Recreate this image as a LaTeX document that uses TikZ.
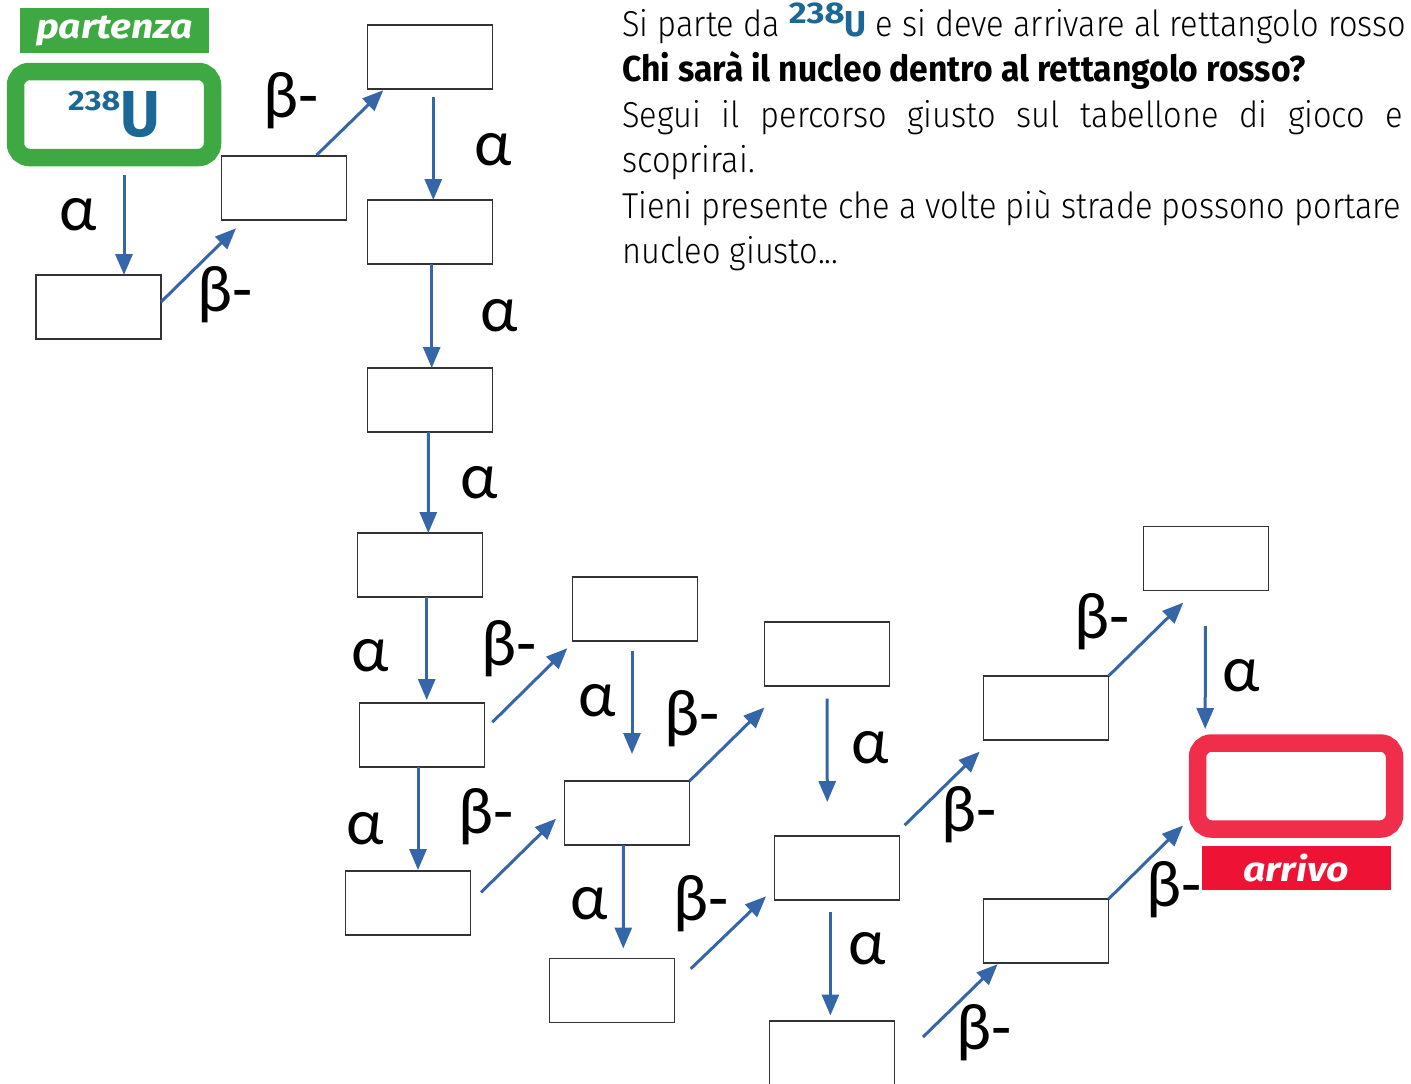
\documentclass[tikz,border=0pt]{standalone}
\usepackage{fontspec}
\setmainfont{Fira Sans}[UprightFont={* Light}, FakeStretch=0.905]
\newfontfamily\strongfont{Fira Sans}[FakeStretch=0.935]
\newfontfamily\widefont{Fira Sans}[FakeStretch=1.15]
\newfontfamily\greekfont{Carlito}
\usetikzlibrary{arrows.meta}

\definecolor{startgreen}{HTML}{3EA843}
\definecolor{endred}{HTML}{F02D4B}
\definecolor{tagred}{HTML}{EE1234}
\definecolor{arrowblue}{HTML}{3566AA}
\definecolor{textblue}{HTML}{1B6796}

\begin{document}
\begin{tikzpicture}[x=0.5pt,y=-0.5pt,
    box/.style={draw=black!80, line width=0.6pt, minimum width=62.5pt, minimum height=32pt, inner sep=0pt, outer sep=0pt},
    endbox/.style={rounded corners=7pt, line width=8.75pt, minimum width=98.5pt, minimum height=43pt, inner sep=0pt, outer sep=0pt},
    tag/.style={text=white, minimum width=94.5pt, minimum height=22.2pt, inner sep=0pt, font=\widefont\fontsize{17}{18}\selectfont\bfseries\itshape},
    dec/.style={draw=arrowblue, line width=1.5pt, -{Triangle[length=10.5pt,width=8.5pt]}},
    lab/.style={inner sep=0pt, font=\greekfont\fontsize{33}{36}\selectfont},
    txt/.style={anchor=base west, inner sep=0pt, font=\fontsize{18}{22}\selectfont}]
      \useasboundingbox (0,0) rectangle (1411,1083);

      % start and finish
      \node[tag, fill=startgreen] (partenza) at (114.5,30.5) {partenza};
      \node[endbox, draw=startgreen] (u) at (114,114.5)
        {\textcolor{textblue}{\strongfont\bfseries\raisebox{13.3pt}{\widefont\fontsize{14}{14}\selectfont 238}\fontsize{32.5}{34}\selectfont U}};
      \node[endbox, draw=endred] (arr) at (1296,786) {};
      \node[tag, fill=tagred] (arrivo) at (1296,868) {arrivo};

      % empty boxes
      \foreach \n/\x/\y in {b1/98.5/307, b2/284/188, b3/430/57, b4/430/232, b5/430/400,
                            b6/420/565, b7/422/735, b8/408/903, b9/635/609, b10/627/813,
                            b11/612/990.5, b12/827/654, b13/837/868, b14/832/1053,
                            b15/1046/708, b16/1046/931, b17/1206/558.5}
      \node[box] (\n) at (\x,\y) {};

      % decays
      \draw[dec] ([shift={(10,17)}]u.south) -- ([shift={(25.5,0)}]b1.north);
      \draw[dec] ([shift={(0,-5)}]b1.east) -- ([shift={(14.5,8.3)}]b2.south west);
      \draw[dec] ([shift={(32.7,-1)}]b2.north) -- ([shift={(15.8,1.2)}]b3.south west);
      \draw[dec] ([shift={(3.3,8)}]b3.south) -- ([shift={(3.3,0)}]b4.north);
      \draw[dec] ([shift={(1.7,0)}]b4.south) -- ([shift={(1.7,0)}]b5.north);
      \draw[dec] ([shift={(-1.7,0)}]b5.south) -- ([shift={(8.3,0)}]b6.north);
      \draw[dec] ([shift={(6.7,0)}]b6.south) -- ([shift={(4.7,-3)}]b7.north);
      \draw[dec] ([shift={(-4,0)}]b7.south) -- ([shift={(10,-1)}]b8.north);
      \draw[dec] ([shift={(7.8,-12.8)}]b7.east) -- ([shift={(-5.2,7.2)}]b9.south west);
      \draw[dec] ([shift={(10.5,-10.6)}]b8.east) -- ([shift={(-8.5,5.7)}]b10.west);
      \draw[dec] ([shift={(-3,10)}]b9.south) -- ([shift={(5,-27)}]b10.north);
      \draw[dec] ([shift={(-3.7,0)}]b10.south) -- ([shift={(11.3,-10)}]b11.north);
      \draw[dec] (b10.north east) -- ([shift={(0,21.4)}]b12.south west);
      \draw[dec] ([shift={(16.2,-21.7)}]b11.east) -- ([shift={(-8.4,28.3)}]b13.west);
      \draw[dec] ([shift={(0,12.5)}]b12.south) -- ([shift={(-9.7,-34)}]b13.north);
      \draw[dec] ([shift={(-6.6,12)}]b13.south) -- ([shift={(-1.6,-5.5)}]b14.north);
      \draw[dec] ([shift={(5.1,-10.8)}]b13.north east) -- ([shift={(-3.8,11.6)}]b15.south west);
      \draw[dec] ([shift={(28.5,-16)}]b14.east) -- ([shift={(14.1,1.2)}]b16.south west);
      \draw[dec] (b15.north east) -- ([shift={(39.8,12.1)}]b17.south west);
      \draw[dec] ([shift={(-0.6,35.5)}]b17.south) -- ([shift={(7.65,-14)}]arr.north west);
      \draw[dec] (b16.north east) -- ([shift={(-14.45,-3.55)}]arr.south west);

      % labels
      \foreach \n/\x/\y in {al1/78/215, al2/493/150, al3/499/316, al4/479/483, al5/370/656,
                            al6/365/829, al7/597/701, al8/589/904, al9/870/748, al10/867/949,
                            al11/1241/676}
      \node[lab] (\n) at (\x,\y) {α};
      \foreach \n/\x/\y in {be1/225.5/295, be2/291/101, be3/509.5/649, be4/486.5/817,
                            be5/692.5/719, be6/701.5/904, be7/969.5/815, be8/984/1033,
                            be9/1102/622, be10/1174/890}
      \node[lab] (\n) at (\x,\y) {β-};

      % instructions
      \node[txt] (line1) at (622,36) {Si parte da \textcolor{textblue}{\strongfont\bfseries\raisebox{6.35pt}{\widefont\fontsize{15}{15}\selectfont 238}U} e si deve arrivare al rettangolo rosso};
      \node[txt] (line2) at (622,81.7) {\strongfont\bfseries Chi sarà il nucleo dentro al rettangolo rosso?};
      \node[txt] (line3) at (622,127.3) {\makebox[390.5pt][s]{Segui il percorso giusto sul tabellone di gioco e}};
      \node[txt] (line4) at (622,172.7) {scoprirai.};
      \node[txt] (line5) at (622,218.3) {Tieni presente che a volte più strade possono portare};
      \node[txt] (line6) at (622,263.3) {nucleo giusto...};
    \end{tikzpicture}
\end{document}
